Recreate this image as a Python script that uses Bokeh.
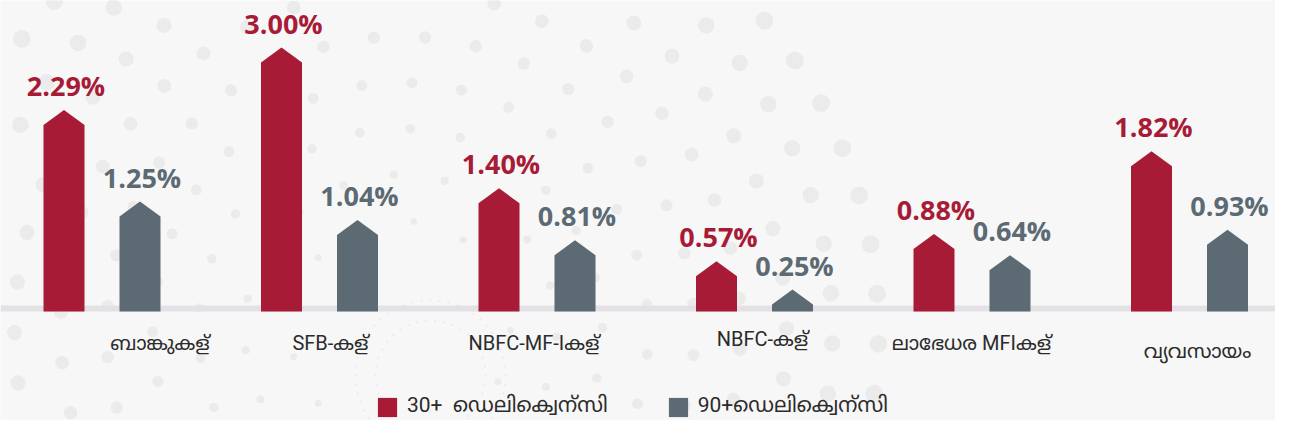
import numpy as np
from bokeh.plotting import figure
from bokeh.models import ColumnDataSource, LabelSet, Legend, LegendItem
from bokeh.core.properties import value
from bokeh.embed import file_html
from bokeh.resources import INLINE

# ---------------- data ----------------
categories = ["ബാങ്കുകള്", "SFB-കള്", "NBFC-MF-Iകള്", "NBFC-കള്", "ലാഭേധര  MFIകള്", "വ്യവസായം"]
dpd30 = [2.29, 3.00, 1.40, 0.57, 0.88, 1.82]
dpd90 = [1.25, 1.04, 0.81, 0.25, 0.64, 0.93]
series_names = ["30+  ഡെലിക്വെന്സി", "90+ഡെലിക്വെന്സി"]

# ---------------- layout / style ----------------
W, H = 1275, 420
PX_X, PX_Y = 217.5, 88.0          # pixels per category / per percent
BASE = 311                         # baseline, px from top
X0 = -101.5 / PX_X
X1 = X0 + W / PX_X
Y0 = -(H - BASE) / PX_Y
Y1 = BASE / PX_Y
BAR_W = 41 / PX_X
ROOF = 15 / PX_Y
OFF = 38 / PX_X
RED, GRAY = "#A81B37", "#5C6A74"
BG = "#F7F7F7"
TXT = "#2B2B2B"
FONT = "Roboto, 'Noto Sans Malayalam', 'Noto Sans', sans-serif"
label_dx = [58, 11, -3, 8, 2, 8]
label_dy = [0, 0, 0, 4, 0, -8]

p = figure(width=W, height=H, x_range=(X0, X1), y_range=(Y0, Y1),
           output_backend="svg", toolbar_location=None, min_border=0,
           x_axis_location=None, y_axis_location=None,
           background_fill_color=BG, border_fill_color=BG, outline_line_color=None)
p.xgrid.visible = False
p.ygrid.visible = False

# decorative dotted rings (background texture)
dx_list, dy_list, ds_list = [], [], []
cx_px, cy_px = 400.0, 330.0
for k, rad in enumerate(np.arange(110, 520, 46)):
    n = int(2 * np.pi * rad / 50)
    for j in range(n):
        a = 2 * np.pi * j / n + k * 0.37
        px = cx_px + rad * np.cos(a)
        py = cy_px + rad * np.sin(a)
        if 0 <= px <= W and 0 <= py <= H:
            dx_list.append(X0 + px / PX_X)
            dy_list.append(Y1 - py / PX_Y)
            ds_list.append(3.5 + rad * 0.03)
for rad in (55, 75):
    n = int(2 * np.pi * rad / 9)
    for j in range(n):
        a = 2 * np.pi * j / n
        dx_list.append(X0 + (430 + rad * np.cos(a)) / PX_X)
        dy_list.append(Y1 - (375 + rad * np.sin(a)) / PX_Y)
        ds_list.append(2.2)
p.scatter(dx_list, dy_list, size=ds_list, color="#EBEBEB", line_color=None)

# baseline band
p.quad(left=[X0], right=[X1], bottom=[0], top=[6 / PX_Y], color="#E3E1E5", line_color=None)

def house(cx, v):
    l, r = cx - BAR_W / 2, cx + BAR_W / 2
    s = max(v - ROOF, 0)
    return [l, l, cx, r, r], [0, s, v, s, 0]

idx = np.arange(len(categories))
rx, ry, gx, gy = [], [], [], []
for i, (a, b) in enumerate(zip(dpd30, dpd90)):
    x_, y_ = house(i - OFF, a); rx.append(x_); ry.append(y_)
    x_, y_ = house(i + OFF, b); gx.append(x_); gy.append(y_)

r_red = p.patches(rx, ry, fill_color=RED, line_color=None)
r_gray = p.patches(gx, gy, fill_color=GRAY, line_color=None)

# value labels
src_r = ColumnDataSource(dict(x=idx - OFF, y=dpd30, t=[f"{v:.2f}%" for v in dpd30]))
src_g = ColumnDataSource(dict(x=idx + OFF, y=dpd90, t=[f"{v:.2f}%" for v in dpd90]))
for src, col in ((src_r, RED), (src_g, GRAY)):
    p.add_layout(LabelSet(x="x", y="y", text="t", source=src, y_offset=14, x_offset=2,
                          text_align="center", text_baseline="alphabetic",
                          text_font=value("Open Sans"), text_font_style="bold",
                          text_font_size="27px", text_color=col))

# category labels
src_c = ColumnDataSource(dict(x=idx, y=[0] * len(categories), t=categories,
                              xo=label_dx, yo=[-31 + d for d in label_dy]))
p.add_layout(LabelSet(x="x", y="y", text="t", source=src_c, x_offset="xo", y_offset="yo",
                      text_align="center", text_baseline="middle",
                      text_font=value(FONT), text_font_size="20px", text_color=TXT))

legend = Legend(items=[LegendItem(label=series_names[0], renderers=[r_red]),
                       LegendItem(label=series_names[1], renderers=[r_gray])],
                orientation="horizontal", location=(375, 0),
                glyph_width=24, glyph_height=24, label_standoff=8, spacing=58,
                padding=0, margin=0, border_line_alpha=0, background_fill_alpha=0,
                label_text_font=FONT, label_text_font_size="21px",
                label_text_color=TXT, label_height=24)
p.add_layout(legend)

open("out.html", "w").write(file_html(p, INLINE))
